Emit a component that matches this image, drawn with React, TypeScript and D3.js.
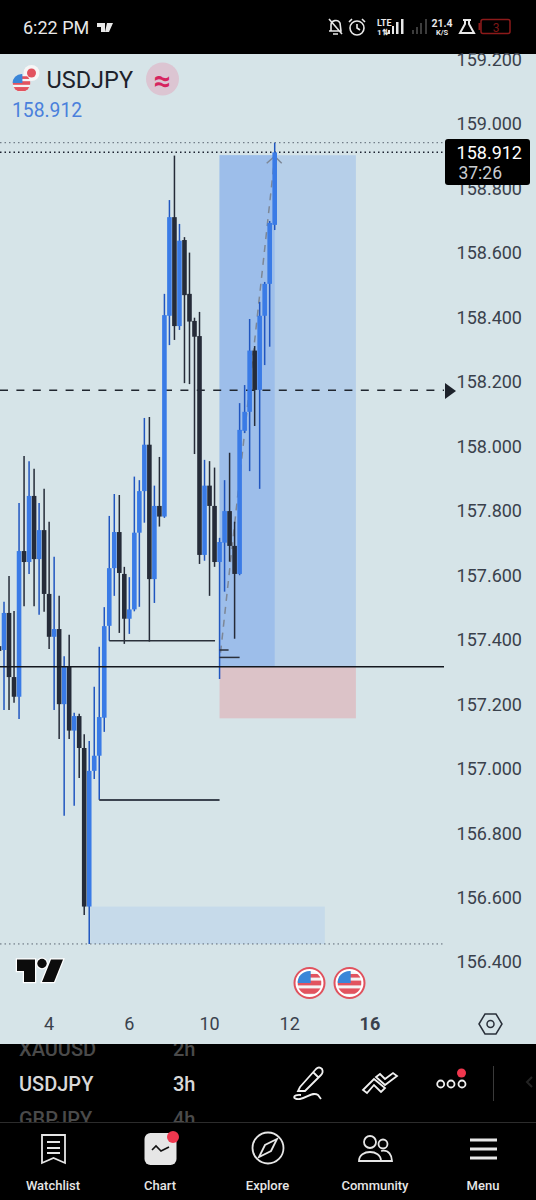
import React from "react";
import * as d3 from "d3";

// oldest bar first, 3h candles
const opens = [157.38,157.368,157.483,157.284,157.223,157.675,157.641,157.846,157.65,157.74,157.542,157.409,157.433,157.2,157.316,157.118,157.163,157.064,156.572,156.993,157.04,157.158,157.443,157.622,157.734,157.604,157.465,157.494,157.732,157.861,158.005,157.588,157.815,157.782,158.405,158.711,158.373,158.64,158.473,158.389,158.342,157.663,157.878,157.815,157.641,157.701,157.799,157.691,157.604,158.048,158.107,158.297,158.175,158.405,158.504,158.687];
const highs = [157.399,157.518,157.598,157.489,157.824,157.97,157.954,157.93,157.824,157.868,157.766,157.657,157.536,157.349,157.415,157.173,157.17,157.107,157.086,157.254,157.378,157.501,157.784,157.852,157.849,157.626,157.594,157.906,157.895,158.088,158.091,157.878,157.967,158.473,158.764,158.902,158.69,158.649,158.601,158.399,158.417,157.958,157.954,157.934,157.716,157.895,157.98,157.766,158.134,158.19,158.395,158.311,158.448,158.51,158.699,158.942];
const lows = [157.352,157.182,157.182,157.204,157.154,157.504,157.604,157.504,157.477,157.487,157.371,157.182,157.092,156.854,157.092,156.885,156.971,156.546,156.456,156.968,156.903,157.114,157.397,157.536,157.421,157.387,157.418,157.488,157.502,157.763,157.394,157.514,157.751,157.778,158.314,158.33,158.361,158.196,158.193,157.976,157.635,157.645,157.536,157.626,157.278,157.549,157.642,157.403,157.6,158.041,157.923,158.063,157.868,158.252,158.309,158.671];
const closes = [157.365,157.483,157.284,157.223,157.675,157.641,157.846,157.65,157.74,157.542,157.409,157.433,157.2,157.316,157.118,157.163,157.064,156.572,156.993,157.04,157.16,157.442,157.622,157.734,157.607,157.465,157.494,157.732,157.861,158.005,157.588,157.815,157.782,158.407,158.711,158.373,158.638,158.469,158.387,158.34,157.663,157.878,157.815,157.641,157.703,157.799,157.691,157.604,158.051,158.107,158.297,158.175,158.405,158.504,158.693,158.912];

const priceTicks = [159.2, 159, 158.8, 158.6, 158.4, 158.2, 158, 157.8, 157.6, 157.4, 157.2, 157, 156.8, 156.6, 156.4];
const timeTicks = [
  { bar: 10, label: "4", bold: false },
  { bar: 26, label: "6", bold: false },
  { bar: 42, label: "10", bold: false },
  { bar: 58, label: "12", bold: false },
  { bar: 74, label: "16", bold: true },
];
const navLabels = ["Watchlist", "Chart", "Explore", "Community", "Menu"];
const navCentres = [53, 160, 267.5, 375, 483];

const lastPrice = 158.912;
const highLine = 158.942;
const lowLine = 156.456;
const midLine = 158.174;
const entry = 157.316;
const target = 158.903;
const stop = 157.156;
const zoneTop = 156.572;

const font = "Roboto, sans-serif";
const blue = "#3a7be6";
const blueWick = "#2056c0";
const dark = "#252b38";
const ink = "#3a414c";

const x = d3.scaleLinear().domain([0, 55]).range([-1, 274.7]);
const y = d3.scaleLinear().domain([159, 156.4]).range([124, 962]);

const UsFlag = ({ cx, cy, r, ring }: { cx: number; cy: number; r: number; ring: boolean }) => {
  const id = `flag${cx}`;
  return (
    <g>
      {ring && <circle cx={cx} cy={cy} r={r + 3} fill="#fff" stroke="#e0525e" strokeWidth={2} />}
      <clipPath id={id}><circle cx={cx} cy={cy} r={r} /></clipPath>
      <g clipPath={`url(#${id})`}>
        <rect x={cx - r} y={cy - r} width={2 * r} height={2 * r} fill="#f4f4f4" />
        <rect x={cx - r} y={cy - r * 0.2} width={2 * r} height={r * 0.4} fill="#e2535f" />
        <rect x={cx - r} y={cy + r * 0.45} width={2 * r} height={r * 0.45} fill="#e2535f" />
        <rect x={cx} y={cy - r * 0.75} width={r} height={r * 0.3} fill="#e2535f" />
        <rect x={cx - r} y={cy - r} width={r * 1.1} height={r * 1} fill="#3a86d8" />
      </g>
    </g>
  );
};

export default function App() {
  const right = 444;
  const boxLeft = x(44);
  const boxRight = x(71.2);
  const dotted = "1.5 3";
  return (
    <svg width={536} height={1200} style={{ position: "absolute", left: 0, top: 0, display: "block", fontFamily: font }}>
      <rect width={536} height={1200} fill="#000" />
      <rect y={54} width={536} height={990} fill="#d6e4e8" />

      {/* position tool and zones */}
      <rect x={boxLeft} y={y(target)} width={boxRight - boxLeft} height={y(entry) - y(target)} fill="#b6cfe9" />
      <rect x={boxLeft} y={y(target)} width={x(55) - boxLeft} height={y(entry) - y(target)} fill="#9dbeea" />
      <rect x={boxLeft} y={y(entry)} width={boxRight - boxLeft} height={y(stop) - y(entry)} fill="#dcc3c8" />
      <rect x={x(18.2)} y={y(zoneTop)} width={x(65) - x(18.2)} height={y(lowLine) - y(zoneTop)} fill="#c6daea" />

      {/* price lines */}
      <line x1={0} x2={right} y1={y(highLine)} y2={y(highLine)} stroke="#5c6672" strokeWidth={1} strokeDasharray={dotted} />
      <line x1={0} x2={right} y1={y(lastPrice)} y2={y(lastPrice)} stroke="#1c2230" strokeWidth={1.5} strokeDasharray={dotted} />
      <line x1={0} x2={right} y1={y(lowLine)} y2={y(lowLine)} stroke="#5c6672" strokeWidth={1} strokeDasharray={dotted} />
      <line x1={0} x2={right} y1={y(midLine)} y2={y(midLine)} stroke="#20262f" strokeWidth={1.5} strokeDasharray="8 8.4" />
      <path d="M445 383 L456 391 L445 399Z" fill="#1d222b" />

      {/* dashed projection */}
      <path d={`M${x(44) + 1} ${y(157.36)} L${x(55)} ${y(target) + 2}`} fill="none" stroke="#7d8796" strokeWidth={1.5} strokeDasharray="7 6" />
      <path d={`M${x(55) - 8} ${y(target) + 8} L${x(55)} ${y(target) + 1} L${x(55) + 7} ${y(target) + 8}`} fill="none" stroke="#7d8796" strokeWidth={1.5} />

      {/* candles */}
      {opens.map((open, i) => {
        const up = closes[i] >= open;
        const top = y(Math.max(open, closes[i]));
        const bottom = y(Math.min(open, closes[i]));
        return (
          <g key={i}>
            <line x1={x(i)} x2={x(i)} y1={y(highs[i])} y2={y(lows[i])} stroke={up ? blueWick : dark} strokeWidth={1.5} />
            <rect x={x(i) - 2.3} y={top} width={4.6} height={bottom - top} fill={up ? blue : dark} />
          </g>
        );
      })}

      {/* horizontal rays */}
      <line x1={0} x2={right} y1={y(entry)} y2={y(entry)} stroke="#14181f" strokeWidth={1.6} />
      <line x1={x(22)} x2={x(43.1)} y1={y(157.397)} y2={y(157.397)} stroke="#2a303a" strokeWidth={1.5} />
      <line x1={x(20)} x2={x(44)} y1={y(156.903)} y2={y(156.903)} stroke="#3c4450" strokeWidth={2} />
      <line x1={x(44)} x2={x(45.8)} y1={y(157.368)} y2={y(157.368)} stroke="#2a303a" strokeWidth={1.5} />
      <line x1={x(44)} x2={x(48)} y1={y(157.345)} y2={y(157.345)} stroke="#2a303a" strokeWidth={1.5} />

      {/* price axis */}
      {priceTicks.map((p) => (
        <text key={p} x={522} y={y(p)} dy="0.36em" textAnchor="end" fontSize={18} fill={ink}>{d3.format(".3f")(p)}</text>
      ))}
      <rect y={0} width={536} height={53} fill="#000" />
      <rect x={445} y={139} width={85} height={46} rx={3} fill="#000" />
      <text x={522} y={158.5} textAnchor="end" fontSize={18} fill="#fff">{lastPrice.toFixed(3)}</text>
      <text x={502} y={179} textAnchor="end" fontSize={17.5} fill="#c9ccd0">37:26</text>

      {/* time axis */}
      {timeTicks.map((t) => (
        <text key={t.label} x={x(t.bar)} y={1030} textAnchor="middle" fontSize={18} fontWeight={t.bold ? 700 : 400} fill={ink}>{t.label}</text>
      ))}
      <path d="M479 1024 L485 1014 H496 L502 1024 L496 1034 H485Z" fill="none" stroke="#2a303a" strokeWidth={1.5} />
      <circle cx={490.5} cy={1024} r={3.5} fill="none" stroke="#2a303a" strokeWidth={1.5} />

      {/* header */}
      <circle cx={31.5} cy={73} r={8} fill="#f6f6f6" />
      <circle cx={31.5} cy={73} r={4.5} fill="#e2535f" />
      <UsFlag cx={21.5} cy={83} r={9} ring={false} />
      <text x={46.5} y={87.5} fontSize={23.5} fill="#1d222b">USDJPY</text>
      <circle cx={162.5} cy={79} r={16.5} fill="#dcc5d2" />
      <text x={162.5} y={91} textAnchor="middle" fontSize={30} fontWeight={700} fill="#d6245f">≈</text>
      <text x={12} y={117} fontSize={19.3} fill="#4a80dc">158.912</text>

      {/* logo and events */}
      <g stroke="#fff" strokeWidth={2.5} paintOrder="stroke" fill="#0c0c0c">
        <path d="M17 959.5 H35 V982 H24 V971 H17Z" />
        <circle cx={42} cy={963.5} r={4.7} />
        <path d="M51 959.5 H63 L54 982 H42Z" />
      </g>
      <UsFlag cx={309.5} cy={983} r={12} ring />
      <UsFlag cx={349.5} cy={983} r={12} ring />

      {/* status bar */}
      <text x={23} y={34} fontSize={18} fill="#e8e8e8">6:22 PM</text>
      <path d="M97 23 H105 V32 H101 V27 H97Z M107 23 H113 L109 32 H105Z" fill="#e8e8e8" />
      <g stroke="#e8e8e8" fill="none" strokeWidth={1.6}>
        <path d="M331 31 V25 C331 20 338 19 340 23 L341 31 H329 M329 19 L342 34 M333 34 H338" />
        <circle cx={357} cy={28} r={7} />
        <path d="M357 24 V28 L360 30 M349 22 L352 19 M362 19 L365 22" />
        <path d="M463 20 H471 M465 20 V24 L460 33 H474 L469 24 V20" strokeWidth={2} />
      </g>
      <text x={377} y={26} fontSize={9} fontWeight={700} fill="#e8e8e8">LTE</text>
      <text x={377} y={35} fontSize={8} fontWeight={700} fill="#e8e8e8">1⇅</text>
      <g fill="#e8e8e8">
        <rect x={388} y={30} width={2} height={4} />
        <rect x={392} y={26} width={2} height={8} />
        <rect x={396} y={22} width={2.5} height={12} />
        <rect x={401} y={19} width={2.5} height={15} />
      </g>
      <g fill="#3c3c3c">
        <rect x={412} y={30} width={2} height={4} />
        <rect x={416} y={27} width={2} height={7} />
        <rect x={420} y={23} width={2} height={11} />
        <rect x={425} y={19} width={2} height={15} />
      </g>
      <text x={442} y={27} textAnchor="middle" fontSize={10.5} fontWeight={700} fill="#e8e8e8">21.4</text>
      <text x={442} y={35} textAnchor="middle" fontSize={7.5} fontWeight={700} fill="#e8e8e8">K/S</text>
      <rect x={481} y={19.5} width={29} height={14} rx={2} fill="none" stroke="#8c1a1a" strokeWidth={1.5} />
      <rect x={478.5} y={23} width={2} height={7} fill="#8c1a1a" />
      <text x={496} y={31.5} textAnchor="middle" fontSize={12} fill="#7c1616">3</text>

      {/* toolbar */}
      <clipPath id="toolbar"><rect y={1044} width={536} height={78} /></clipPath>
      <g clipPath="url(#toolbar)" fontSize={20} fontWeight={500}>
        <text x={19} y={1056} fill="#4a4a4a">XAUUSD</text>
        <text x={173} y={1056} fill="#4a4a4a">2h</text>
        <text x={19} y={1091} fill="#d8d8d8">USDJPY</text>
        <text x={173} y={1091} fill="#d8d8d8">3h</text>
        <text x={19} y={1126} fill="#4a4a4a">GBPJPY</text>
        <text x={173} y={1126} fill="#4a4a4a">4h</text>
      </g>
      <line x1={0} x2={536} y1={1122.5} y2={1122.5} stroke="#2c2c2c" />
      <g fill="none" stroke="#f0f0f0" strokeWidth={1.8}>
        <path d="M300 1087 L316 1069 C318 1067 320 1067 322 1069 C323 1071 323 1073 321 1075 L305 1091 L298 1091Z M313 1072 L319 1078" />
        <path d="M301 1095 C292 1094 292 1100 300 1099 C307 1098 313 1091 318 1095 L321 1099" />
        <path d="M363 1090 L374 1079 L385 1088 L381 1092 L374 1085 L367 1093Z M376 1077 L385 1085 L397 1076 L393 1073 L385 1079 L380 1074Z" />
        <circle cx={440.7} cy={1084} r={3.5} />
        <circle cx={451} cy={1084} r={3.5} />
        <circle cx={462} cy={1084} r={3.5} />
      </g>
      <circle cx={461.5} cy={1073} r={4.5} fill="#f0374e" />
      <line x1={493.5} x2={493.5} y1={1066} y2={1101} stroke="#3a3a3a" />
      <path d="M532 1077 L527 1082 L532 1087" fill="none" stroke="#222" strokeWidth={2} />

      {/* bottom navigation */}
      {navLabels.map((label, i) => (
        <text key={label} x={navCentres[i]} y={1190} textAnchor="middle" fontSize={13} fontWeight={500} fill="#e6e6e6">{label}</text>
      ))}
      <g fill="none" stroke="#e6e6e6" strokeWidth={1.8}>
        <path d="M42 1135 H65 V1163 L53.5 1158 L42 1163Z M47 1142 H60 M47 1148 H60 M47 1153 H60" />
        <circle cx={268} cy={1148} r={15.5} />
        <path d="M277 1139 L265 1145 L259 1157 L271 1151Z" />
        <circle cx={370} cy={1142} r={6} />
        <circle cx={383} cy={1144} r={4.5} />
        <path d="M359 1161 C359 1149 381 1149 381 1161Z M381 1151 C389 1149 392 1156 392 1161 H381" />
        <path d="M470 1140 H497 M470 1149 H497 M470 1158 H497" strokeWidth={3} />
      </g>
      <rect x={144.5} y={1133} width={32} height={32} rx={6} fill="#e6e6e6" />
      <path d="M152 1150 L156 1146 L161 1151 L169 1147" fill="none" stroke="#111" strokeWidth={1.6} />
      <circle cx={173} cy={1137} r={6} fill="#f0374e" />
    </svg>
  );
}
